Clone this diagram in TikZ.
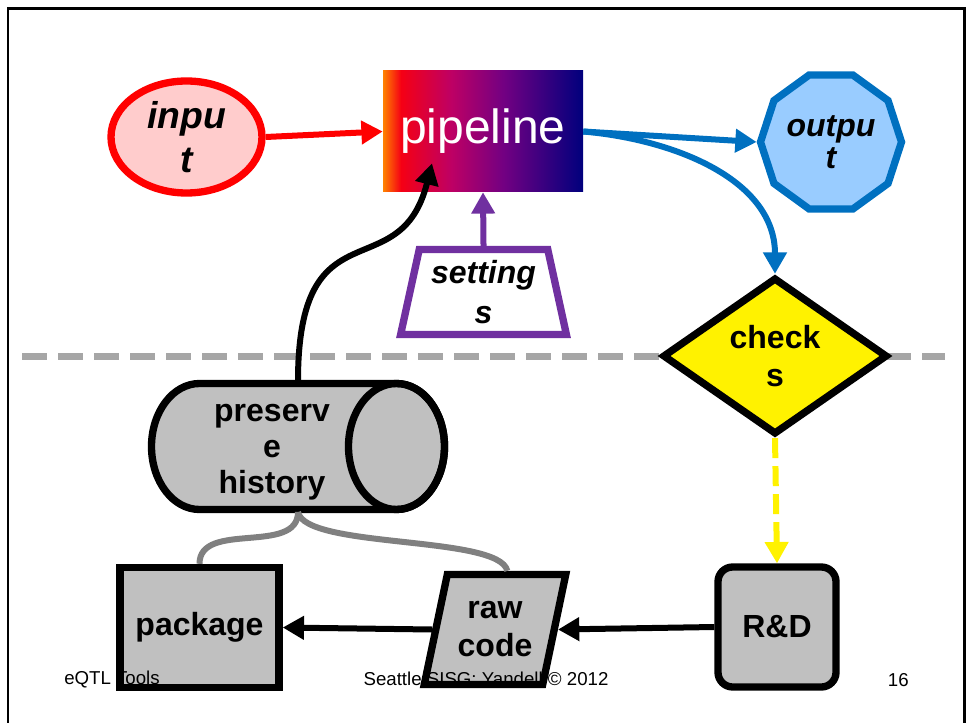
\documentclass[tikz,border=0pt]{standalone}
\usepackage{fontspec}
\setmainfont{Liberation Sans}
\usepackage{tikz}
\usetikzlibrary{shapes.geometric,arrows.meta,positioning}

\newdimen\pxu \pxu=0.75pt

\definecolor{inred}{HTML}{FF0000}
\definecolor{inpink}{HTML}{FFCCCC}
\definecolor{outblue}{HTML}{0070C0}
\definecolor{outlight}{HTML}{99CCFF}
\definecolor{setpurple}{HTML}{7030A0}
\definecolor{boxgray}{HTML}{C0C0C0}
\definecolor{linkgray}{HTML}{808080}
\definecolor{dashgray}{HTML}{A6A6A6}
\definecolor{pipeorange}{RGB}{255,130,0}
\definecolor{pipered}{RGB}{245,0,20}
\definecolor{pipecrimson}{RGB}{190,0,100}
\definecolor{pipepurple}{RGB}{115,0,130}
\definecolor{pipenavy}{RGB}{0,0,125}

\pgfdeclarehorizontalshading{pipeshade}{100bp}{color(0bp)=(pipeorange); color(25bp)=(pipeorange);
  color(29.5bp)=(pipered); color(42bp)=(pipecrimson); color(55bp)=(pipepurple);
  color(75bp)=(pipenavy); color(100bp)=(pipenavy)}

\begin{document}
\begin{tikzpicture}[x=0.75pt,y=-0.75pt,>={Triangle[length=16pt,width=17pt]},
                    shape node/.style={draw,line width=5.5pt,inner sep=0pt,align=center,
                      fill=boxgray,font=\fontsize{24}{28.5}\selectfont\bfseries},
                    flow/.style={->,line width=4.5pt},
                    gray link/.style={line width=4.5pt,color=linkgray},
                    footer/.style={inner sep=0pt,font=\fontsize{14}{16}\selectfont}]

  \useasboundingbox (0,0) rectangle (969,723);

  % slide frame
  \draw[line width=1.9pt] (7.8,723) -- (7.8,8.3) -- (964.5,8.3) -- (964.5,723);

  % divider
  \draw[line width=5.25pt,color=dashgray,dash pattern=on 19pt off 8pt] (22,356) -- (945,356);

  % upper row
  \node[shape node,ellipse,draw=inred,fill=inpink,minimum width=151\pxu,minimum height=112\pxu,
        inner sep=-8pt,font=\fontsize{28}{33}\selectfont\bfseries\itshape] (inp) at (186.5,137) {inpu\\t};
  \node[shading=pipeshade,shade,minimum width=200\pxu,minimum height=121\pxu,inner sep=0pt,
        text=white,font=\fontsize{36}{40}\selectfont] (pipe) at (483,131.5) {pipeline};
  \node[shape node,regular polygon,regular polygon sides=10,minimum size=141\pxu,
        draw=outblue,fill=outlight,font=\fontsize{24}{24}\selectfont\bfseries\itshape] (outp) at (831,142) {outpu\\t};
  \node[shape node,trapezium,trapezium angle=76.4,trapezium stretches=true,minimum width=166\pxu,
        minimum height=85\pxu,draw=setpurple,fill=white,
        font=\fontsize{24}{29.5}\selectfont\bfseries\itshape] (sett) at (483.5,292) {setting\\s};
  \node[shape node,diamond,minimum width=225\pxu,minimum height=157\pxu,inner sep=-5pt,
        fill=yellow] (chk) at (775,356) {check\\s};

  % history store
  \draw[line width=5.5pt,fill=boxgray] (199.5,383.5) -- (396.5,383.5)
    arc[start angle=-90,end angle=90,x radius=48,y radius=63] -- (199.5,509.5)
    arc[start angle=90,end angle=270,x radius=48,y radius=63] -- cycle;
  \draw[line width=5.5pt] (396.5,446.5) ellipse[x radius=48,y radius=63];
  \node[shape node,draw=none,fill=none,font=\fontsize{24}{27}\selectfont\bfseries] (hist) at (272,452) {preserv\\e\\history};
  \coordinate (histtop) at (298,381);
  \coordinate (histbot) at (298,512);

  % lower row
  \node[shape node,minimum width=159\pxu,minimum height=120\pxu] (pkg) at (199.5,627.5) {package};
  \node[shape node,trapezium,trapezium left angle=72,trapezium right angle=108,
        trapezium stretches=true,minimum width=142\pxu,minimum height=110\pxu] (raw) at (495,629.5) {raw\\code};
  \node[shape node,rounded corners=11pt,minimum width=118\pxu,minimum height=120\pxu] (rd) at (777,627) {R\&D};

  % connectors
  \draw[flow,color=inred] (inp.east) -- (pipe.west);
  \draw[flow,color=outblue] (pipe.east) -- (outp.west);
  \draw[flow,color=outblue] (pipe.east) to[out=-5,in=90] (chk.north);
  \draw[flow,color=setpurple] (sett.north) -- (pipe.south);
  \draw[flow] (histtop) .. controls +(0,-180) and +(-32,127) .. ([xshift=-51\pxu,yshift=29\pxu]pipe.south);
  \draw[flow,color=yellow,dash pattern=on 15pt off 6pt] (chk.south) -- (rd.north);
  \draw[flow] (rd.west) -- (raw.east);
  \draw[flow] (raw.west) -- (pkg.east);
  \draw[gray link] (histbot) to[out=-90,in=90] (pkg.north);
  \draw[gray link] (histbot) .. controls +(7,37) and +(-8,-36) .. (raw.top side);

  % footer
  \node[footer,anchor=base west] (foot1) at (64,684) {eQTL Tools};
  \node[footer,anchor=base] (foot2) at (486,685) {Seattle SISG: Yandell © 2012};
  \node[footer,anchor=base east] (foot3) at (909,686) {16};
\end{tikzpicture}
\end{document}
